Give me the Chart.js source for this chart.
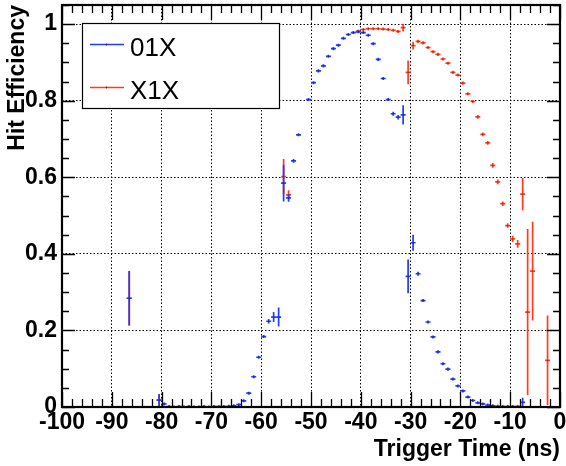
<!DOCTYPE html>
<html>
<head>
<meta charset="utf-8">
<script src="https://cdn.jsdelivr.net/npm/chart.js@4.4.1/dist/chart.umd.min.js"></script>
<style>
html, body { margin: 0; padding: 0; background: white; }
#wrap { width: 566px; height: 466px; position: relative; }
</style>
</head>
<body>
<div id="wrap"><canvas id="chart_hitEfficiency"></canvas></div>
<script>
// 01X : bin centre (ns), efficiency, error
var time01X = [-86.5, -80.5, -79.5, -78.5, -77.5, -76.5, -75.5, -74.5, -73.5, -72.5, -71.5, -70.5,
    -69.5, -68.5, -67.5, -66.5, -65.5, -64.5, -63.5, -62.5, -61.5, -60.5, -59.5, -58.5, -57.5, -56.5,
    -55.5, -54.5, -53.5, -52.5, -50.5, -49.5, -48.5, -47.5, -46.5, -45.5, -44.5, -43.5, -42.5, -41.5,
    -40.5, -39.5, -38.5, -37.5, -36.5, -35.5, -34.5, -33.5, -32.5, -31.5, -30.5, -29.5, -28.5, -27.5,
    -26.5, -25.5, -24.5, -23.5, -22.5, -21.5, -20.5, -19.5, -18.5, -17.5, -16.5, -15.5, -14.5, -13.5,
    -12.5, -11.5, -10.5, -9.5, -8.5, -7.5];
var eff01X = [0.284, 0.018, 0.008, 0.001, 0.000, 0.001, 0.000, 0.001, 0.000, 0.000, 0.001, 0.000,
    0.001, 0.001, 0.001, 0.002, 0.003, 0.006, 0.016, 0.036, 0.079, 0.130, 0.184, 0.224, 0.235, 0.235,
    0.585, 0.546, 0.643, 0.711, 0.803, 0.847, 0.878, 0.891, 0.916, 0.936, 0.945, 0.963, 0.973, 0.978,
    0.980, 0.978, 0.971, 0.949, 0.908, 0.858, 0.803, 0.766, 0.757, 0.763, 0.341, 0.429, 0.348, 0.278,
    0.222, 0.183, 0.144, 0.113, 0.099, 0.073, 0.055, 0.042, 0.026, 0.017, 0.011, 0.008, 0.005, 0.003,
    0.002, 0.001, 0.001, 0.001, 0.001, 0.012];
var err01X = [0.071, 0.016, 0.004, 0.001, 0.001, 0.001, 0.001, 0.001, 0.001, 0.001, 0.001, 0.001,
    0.001, 0.001, 0.001, 0.002, 0.002, 0.003, 0.003, 0.004, 0.004, 0.004, 0.004, 0.006, 0.013, 0.025,
    0.048, 0.010, 0.005, 0.004, 0.004, 0.004, 0.004, 0.004, 0.004, 0.004, 0.004, 0.003, 0.003, 0.003,
    0.003, 0.003, 0.003, 0.004, 0.004, 0.004, 0.004, 0.005, 0.006, 0.025, 0.044, 0.021, 0.005, 0.004,
    0.004, 0.004, 0.004, 0.004, 0.004, 0.004, 0.003, 0.003, 0.003, 0.002, 0.002, 0.002, 0.001, 0.001,
    0.001, 0.001, 0.001, 0.001, 0.001, 0.012];

// X1X
var timeX1X = [-86.5, -80.5, -55.5, -54.5, -40.5, -39.5, -38.5, -37.5, -36.5, -35.5, -34.5, -33.5,
    -32.5, -31.5, -30.5, -29.5, -28.5, -27.5, -26.5, -25.5, -24.5, -23.5, -22.5, -21.5, -20.5, -19.5,
    -18.5, -17.5, -16.5, -15.5, -14.5, -13.5, -12.5, -11.5, -10.5, -9.5, -8.5, -7.5, -6.5, -5.5, -2.5];
var effX1X = [0.284, 0.018, 0.602, 0.554, 0.982, 0.986, 0.988, 0.988, 0.988, 0.987, 0.986, 0.984,
    0.981, 0.991, 0.874, 0.944, 0.955, 0.951, 0.939, 0.928, 0.921, 0.909, 0.898, 0.874, 0.867, 0.846,
    0.818, 0.798, 0.758, 0.712, 0.690, 0.631, 0.588, 0.531, 0.474, 0.439, 0.426, 0.556, 0.248, 0.355, 0.122];
var errX1X = [0.071, 0.016, 0.046, 0.012, 0.003, 0.003, 0.003, 0.003, 0.003, 0.003, 0.003, 0.003,
    0.003, 0.010, 0.031, 0.010, 0.004, 0.004, 0.004, 0.004, 0.004, 0.004, 0.004, 0.004, 0.004, 0.004,
    0.004, 0.004, 0.005, 0.005, 0.005, 0.006, 0.006, 0.006, 0.006, 0.008, 0.010, 0.042, 0.217, 0.129, 0.117];

var xTicks = [-100, -90, -80, -70, -60, -50, -40, -30, -20, -10, 0];
var yTicks = [0, 0.2, 0.4, 0.6, 0.8, 1];

var blue = '#1f3cff';
var red = '#ff3c1e';
var axisFont = { family: '"Liberation Sans", Arial, sans-serif', size: 23, weight: 'bold' };

function points(xs, ys) {
    return xs.map(function (t, i) { return { x: t, y: ys[i] }; });
}

var rootStyle = {
    id: 'rootStyle',
    beforeDraw: function (chart) {
        var ctx = chart.ctx;
        ctx.save();
        ctx.fillStyle = 'white';
        ctx.fillRect(0, 0, chart.width, chart.height);
        ctx.restore();
    },
    afterDatasetsDraw: function (chart) {
        var ctx = chart.ctx, xs = chart.scales.x, ys = chart.scales.y, a = chart.chartArea;
        ctx.save();
        ctx.beginPath();
        ctx.rect(a.left, a.top, a.right - a.left, a.bottom - a.top);
        ctx.clip();
        // X1X first, 01X on top
        for (var di = chart.data.datasets.length - 1; di >= 0; di--) {
            var ds = chart.data.datasets[di];
            ctx.strokeStyle = ds.borderColor;
            ctx.lineWidth = 1.7;
            ds.data.forEach(function (d, i) {
                var px = xs.getPixelForValue(d.x), py = ys.getPixelForValue(d.y);
                var x0 = xs.getPixelForValue(d.x - 0.5), x1 = xs.getPixelForValue(d.x + 0.5);
                var yLo = ys.getPixelForValue(Math.max(0, d.y - ds.errors[i]));
                var yHi = ys.getPixelForValue(d.y + ds.errors[i]);
                yLo = Math.max(yLo, py + 1.5);
                yHi = Math.min(yHi, py - 1.5);
                ctx.beginPath();
                ctx.moveTo(x0, py); ctx.lineTo(x1, py);
                ctx.moveTo(px, yLo); ctx.lineTo(px, yHi);
                ctx.stroke();
                ctx.fillStyle = 'rgba(40,0,0,0.6)';
                ctx.fillRect(px - 0.5, py - 0.5, 1, 1);
            });
        }
        ctx.restore();
    },
    afterDraw: function (chart) {
        var ctx = chart.ctx, xs = chart.scales.x, ys = chart.scales.y, a = chart.chartArea;
        ctx.save();
        ctx.strokeStyle = 'black';
        ctx.lineWidth = 1.3;
        ctx.beginPath();
        // x ticks, bottom and top
        for (var v = xs.min; v <= xs.max + 1e-9; v += 2) {
            var px = Math.round(xs.getPixelForValue(v)) + 0.5;
            var major = Math.abs(v % 10) < 1e-6;
            var len = major ? 15 : 8;
            ctx.moveTo(px, a.bottom); ctx.lineTo(px, a.bottom - len);
            ctx.moveTo(px, a.top); ctx.lineTo(px, a.top + len);
        }
        // y ticks, left and right
        for (var k = 0; k <= 21; k++) {
            var yv = k * 0.05;
            if (yv > ys.max) break;
            var py = Math.round(ys.getPixelForValue(yv)) + 0.5;
            var ylen = (k % 4 === 0) ? 13 : 7;
            ctx.moveTo(a.left, py); ctx.lineTo(a.left + ylen, py);
            ctx.moveTo(a.right, py); ctx.lineTo(a.right - ylen, py);
        }
        ctx.stroke();
        // frame
        ctx.lineWidth = 2.2;
        ctx.strokeRect(a.left, a.top, a.right - a.left, a.bottom - a.top);

        // legend box
        var bx = 82, by = 23, bw = 197, bh = 85;
        ctx.fillStyle = 'white';
        ctx.fillRect(bx, by, bw, bh);
        ctx.lineWidth = 1.2;
        ctx.strokeRect(bx + 0.5, by + 0.5, bw, bh);
        ctx.font = '26px "Liberation Sans", Arial, sans-serif';
        ctx.textBaseline = 'alphabetic';
        chart.data.datasets.forEach(function (ds, i) {
            var ly = i === 0 ? 44.5 : 87.5;
            ctx.strokeStyle = ds.borderColor;
            ctx.lineWidth = 1.7;
            ctx.beginPath();
            ctx.moveTo(90, ly); ctx.lineTo(124, ly);
            ctx.stroke();
            ctx.fillStyle = 'rgba(40,0,0,0.7)';
            ctx.fillRect(106, ly - 1, 1, 2);
            ctx.fillStyle = 'black';
            ctx.fillText(ds.label, 130, ly + 11);
        });
        ctx.restore();
    }
};

var chart_hitEfficiency = new Chart(document.getElementById('chart_hitEfficiency'), {
    type: 'scatter',
    data: {
        datasets: [
            {
                label: '01X',
                data: points(time01X, eff01X),
                errors: err01X,
                borderColor: blue,
                backgroundColor: blue,
                pointRadius: 0,
                showLine: false
            },
            {
                label: 'X1X',
                data: points(timeX1X, effX1X),
                errors: errX1X,
                borderColor: red,
                backgroundColor: red,
                pointRadius: 0,
                showLine: false
            }
        ]
    },
    options: {
        animation: false,
        responsive: true,
        maintainAspectRatio: false,
        layout: { padding: { top: 5, right: 6, left: 0, bottom: 0 } },
        plugins: {
            legend: { display: false },
            tooltip: { enabled: false }
        },
        scales: {
            x: {
                type: 'linear',
                min: -100,
                max: 0,
                afterBuildTicks: function (scale) {
                    scale.ticks = xTicks.map(function (v) { return { value: v }; });
                },
                afterFit: function (scale) {
                    scale.height = 59;
                    scale.paddingLeft = 0; scale.paddingRight = 0;
                },
                ticks: {
                    autoSkip: false,
                    maxRotation: 0,
                    padding: 2,
                    color: 'black',
                    font: axisFont,
                    callback: function (v) { return String(Math.round(v)); }
                },
                grid: { color: 'black', lineWidth: 1, drawTicks: false },
                border: { display: false, dash: [1.5, 2] },
                title: {
                    display: true,
                    text: 'Trigger Time (ns)',
                    align: 'end',
                    color: 'black',
                    font: axisFont,
                    padding: { top: 0, bottom: 3 }
                }
            },
            y: {
                type: 'linear',
                min: 0,
                max: 1.05,
                afterBuildTicks: function (scale) {
                    scale.ticks = yTicks.map(function (v) { return { value: v }; });
                },
                afterFit: function (scale) {
                    scale.width = 62;
                    scale.paddingTop = 0; scale.paddingBottom = 0;
                },
                ticks: {
                    padding: 5,
                    color: 'black',
                    font: axisFont,
                    callback: function (v) { return (v === 0 || v === 1) ? String(v) : v.toFixed(1); }
                },
                grid: { color: 'black', lineWidth: 1, drawTicks: false },
                border: { display: false, dash: [1.5, 2] },
                title: {
                    display: true,
                    text: 'Hit Efficiency',
                    align: 'end',
                    color: 'black',
                    font: axisFont,
                    padding: { top: 4, bottom: 0 }
                }
            }
        }
    },
    plugins: [rootStyle]
});
</script>
</body>
</html>
